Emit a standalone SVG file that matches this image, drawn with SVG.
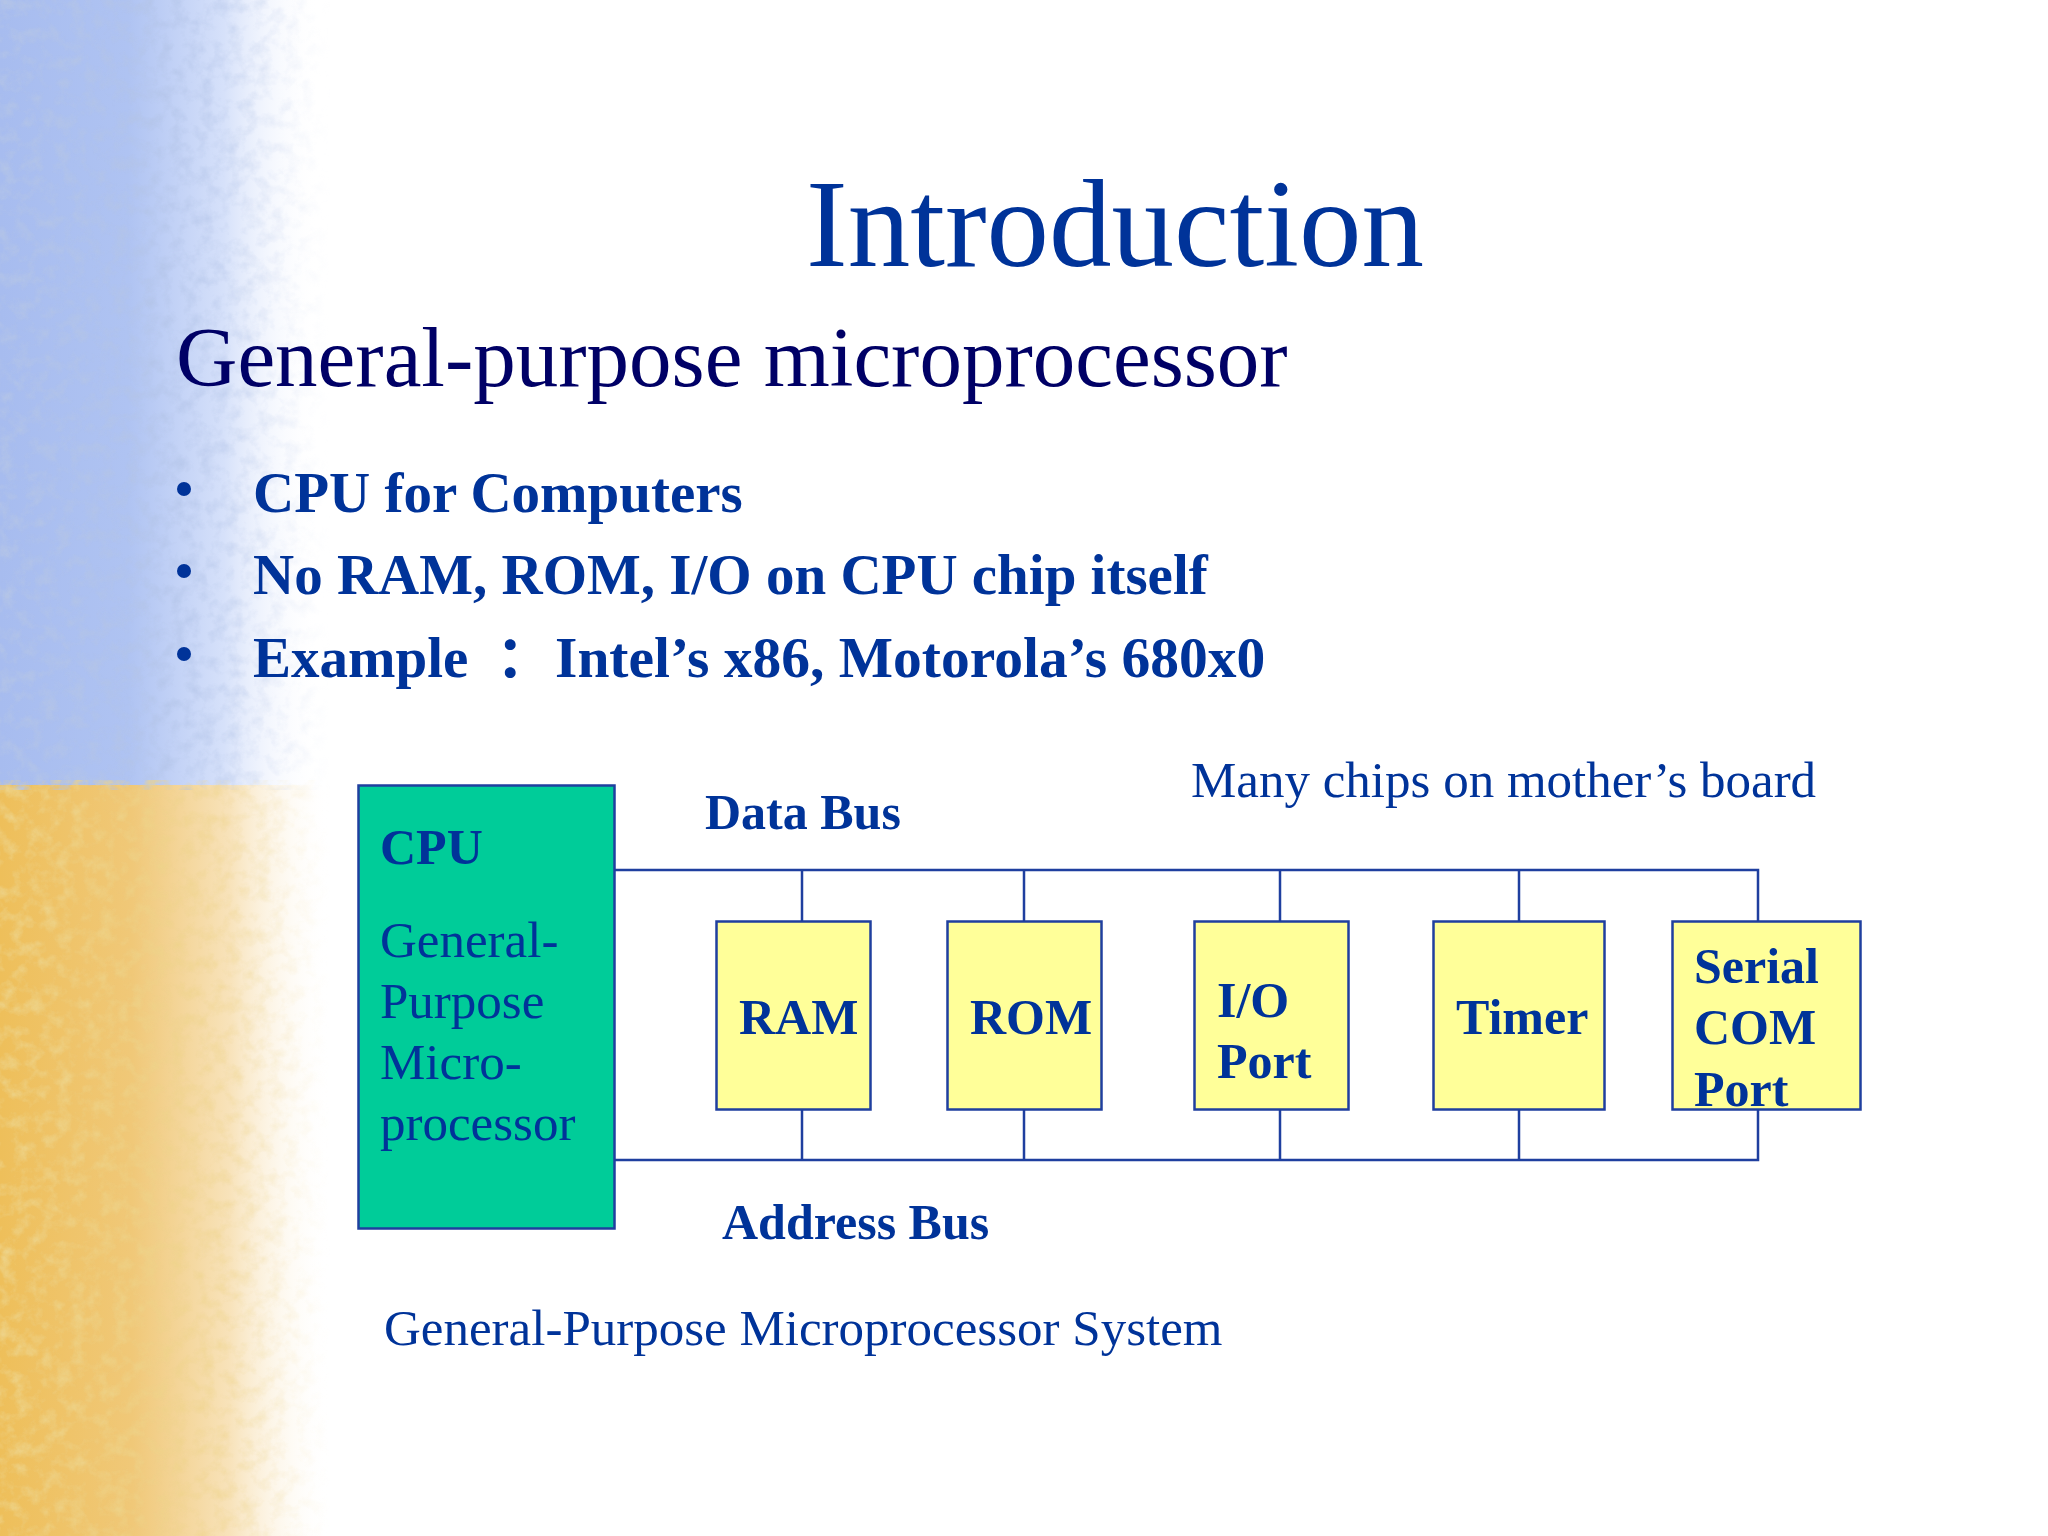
<svg xmlns="http://www.w3.org/2000/svg" width="2048" height="1536" viewBox="0 0 2048 1536">
<defs>
<style>
.t{font-family:"Liberation Serif","Times New Roman",serif;fill:#003399}
.b{font-weight:bold}
.d{font-size:50px}
.n{font-size:51px}
.bx{stroke:#1f3f9f;stroke-width:2.5}
.chip{fill:#ffff99}
.bus{stroke:#1f3f9f;stroke-width:2.5;fill:none}
</style>
<linearGradient id="gBlue" x1="0" y1="0" x2="1" y2="0">
<stop offset="0" stop-color="#a7bcef"/>
<stop offset="0.4" stop-color="#afc3f2"/>
<stop offset="0.7" stop-color="#d6e1fa"/>
<stop offset="1" stop-color="#ffffff" stop-opacity="0"/>
</linearGradient>
<linearGradient id="gOrange" x1="0" y1="0" x2="1" y2="0">
<stop offset="0" stop-color="#eebf5a"/>
<stop offset="0.4" stop-color="#f0c878"/>
<stop offset="0.7" stop-color="#f8e3bb"/>
<stop offset="1" stop-color="#ffffff" stop-opacity="0"/>
</linearGradient>
<linearGradient id="gMask" x1="0" y1="0" x2="1" y2="0">
<stop offset="0" stop-color="#fff"/>
<stop offset="0.45" stop-color="#fff" stop-opacity="0.8"/>
<stop offset="1" stop-color="#fff" stop-opacity="0"/>
</linearGradient>
<mask id="fadeMask" maskUnits="userSpaceOnUse" x="0" y="0" width="400" height="1536">
<rect x="0" y="0" width="330" height="1536" fill="url(#gMask)"/>
</mask>
<filter id="speckBlue" filterUnits="userSpaceOnUse" x="0" y="0" width="330" height="790">
<feTurbulence type="fractalNoise" baseFrequency="0.07" numOctaves="4" seed="5"/>
<feColorMatrix type="matrix" values="0 0 0 0 0.45  0 0 0 0 0.55  0 0 0 0 0.8  2.2 0 0 0 -0.95"/>
</filter>
<filter id="speckOrange" filterUnits="userSpaceOnUse" x="0" y="780" width="330" height="756">
<feTurbulence type="fractalNoise" baseFrequency="0.07" numOctaves="4" seed="11"/>
<feColorMatrix type="matrix" values="0 0 0 0 0.85  0 0 0 0 0.65  0 0 0 0 0.25  2.2 0 0 0 -0.95"/>
</filter>
</defs>

<rect x="0" y="0" width="2048" height="1536" fill="#ffffff"/>

<g id="background">
<rect x="0" y="0" width="320" height="785" fill="url(#gBlue)"/>
<rect x="0" y="785" width="330" height="751" fill="url(#gOrange)"/>
<g mask="url(#fadeMask)">
<rect x="0" y="0" width="330" height="785" fill="#000" filter="url(#speckBlue)"/>
<rect x="0" y="785" width="330" height="751" fill="#000" filter="url(#speckOrange)"/>
</g>
</g>

<g id="title">
<text class="t" x="1115" y="266" font-size="125" text-anchor="middle">Introduction</text>
<text x="176" y="386" font-size="85" style="font-family:'Liberation Serif','Times New Roman',serif;fill:#000066">General-purpose microprocessor</text>
</g>

<g id="bullets">
<circle cx="184" cy="489" r="7" fill="#003399"/>
<circle cx="184" cy="571" r="7" fill="#003399"/>
<circle cx="184" cy="654" r="7" fill="#003399"/>
<text class="t b" x="253" y="512" font-size="57">CPU for Computers</text>
<text class="t b" x="253" y="594" font-size="57">No RAM, ROM, I/O on CPU chip itself</text>
<text class="t b" x="253" y="677" font-size="57">Example</text>
<text x="496" y="677" font-size="57" style="font-family:'Noto Sans CJK SC','Liberation Serif',sans-serif;fill:#003399;font-weight:bold">：</text>
<text class="t b" x="555" y="677" font-size="57.5">Intel’s x86, Motorola’s 680x0</text>
</g>

<g id="connectors">
<polyline class="bus" points="614,870 1758,870 1758,921"/>
<line class="bus" x1="802" y1="870" x2="802" y2="921"/>
<line class="bus" x1="1024" y1="870" x2="1024" y2="921"/>
<line class="bus" x1="1280" y1="870" x2="1280" y2="921"/>
<line class="bus" x1="1519" y1="870" x2="1519" y2="921"/>
<polyline class="bus" points="614,1160 1758,1160 1758,1109"/>
<line class="bus" x1="802" y1="1109" x2="802" y2="1160"/>
<line class="bus" x1="1024" y1="1109" x2="1024" y2="1160"/>
<line class="bus" x1="1280" y1="1109" x2="1280" y2="1160"/>
<line class="bus" x1="1519" y1="1109" x2="1519" y2="1160"/>
</g>

<g id="bus-labels">
<text class="t b d" x="705" y="829">Data Bus</text>
<text class="t b d" x="722" y="1239">Address Bus</text>
<text class="t n" x="1191" y="797">Many chips on mother’s board</text>
</g>

<g id="cpu">
<rect class="bx" x="358.5" y="785.5" width="256" height="443" fill="#00cc99"/>
<text class="t b d" x="380" y="864">CPU</text>
<text class="t n" x="380" y="957">General-</text>
<text class="t n" x="380" y="1018">Purpose</text>
<text class="t n" x="380" y="1079">Micro-</text>
<text class="t n" x="380" y="1140">processor</text>
</g>

<g id="ram">
<rect class="bx chip" x="716.5" y="921.5" width="154" height="188"/>
<text class="t b d" x="739" y="1034">RAM</text>
</g>

<g id="rom">
<rect class="bx chip" x="947.5" y="921.5" width="154" height="188"/>
<text class="t b d" x="970" y="1034">ROM</text>
</g>

<g id="io-port">
<rect class="bx chip" x="1194.5" y="921.5" width="154" height="188"/>
<text class="t b d" x="1217" y="1017">I/O</text>
<text class="t b d" x="1217" y="1078">Port</text>
</g>

<g id="timer">
<rect class="bx chip" x="1433.5" y="921.5" width="171" height="188"/>
<text class="t b d" x="1456" y="1034">Timer</text>
</g>

<g id="serial-com-port">
<rect class="bx chip" x="1672.5" y="921.5" width="188" height="188"/>
<text class="t b d" x="1694" y="983">Serial</text>
<text class="t b d" x="1694" y="1044">COM</text>
<text class="t b d" x="1694" y="1106">Port</text>
</g>

<g id="caption">
<text class="t n" x="384" y="1345">General-Purpose Microprocessor System</text>
</g>
</svg>
